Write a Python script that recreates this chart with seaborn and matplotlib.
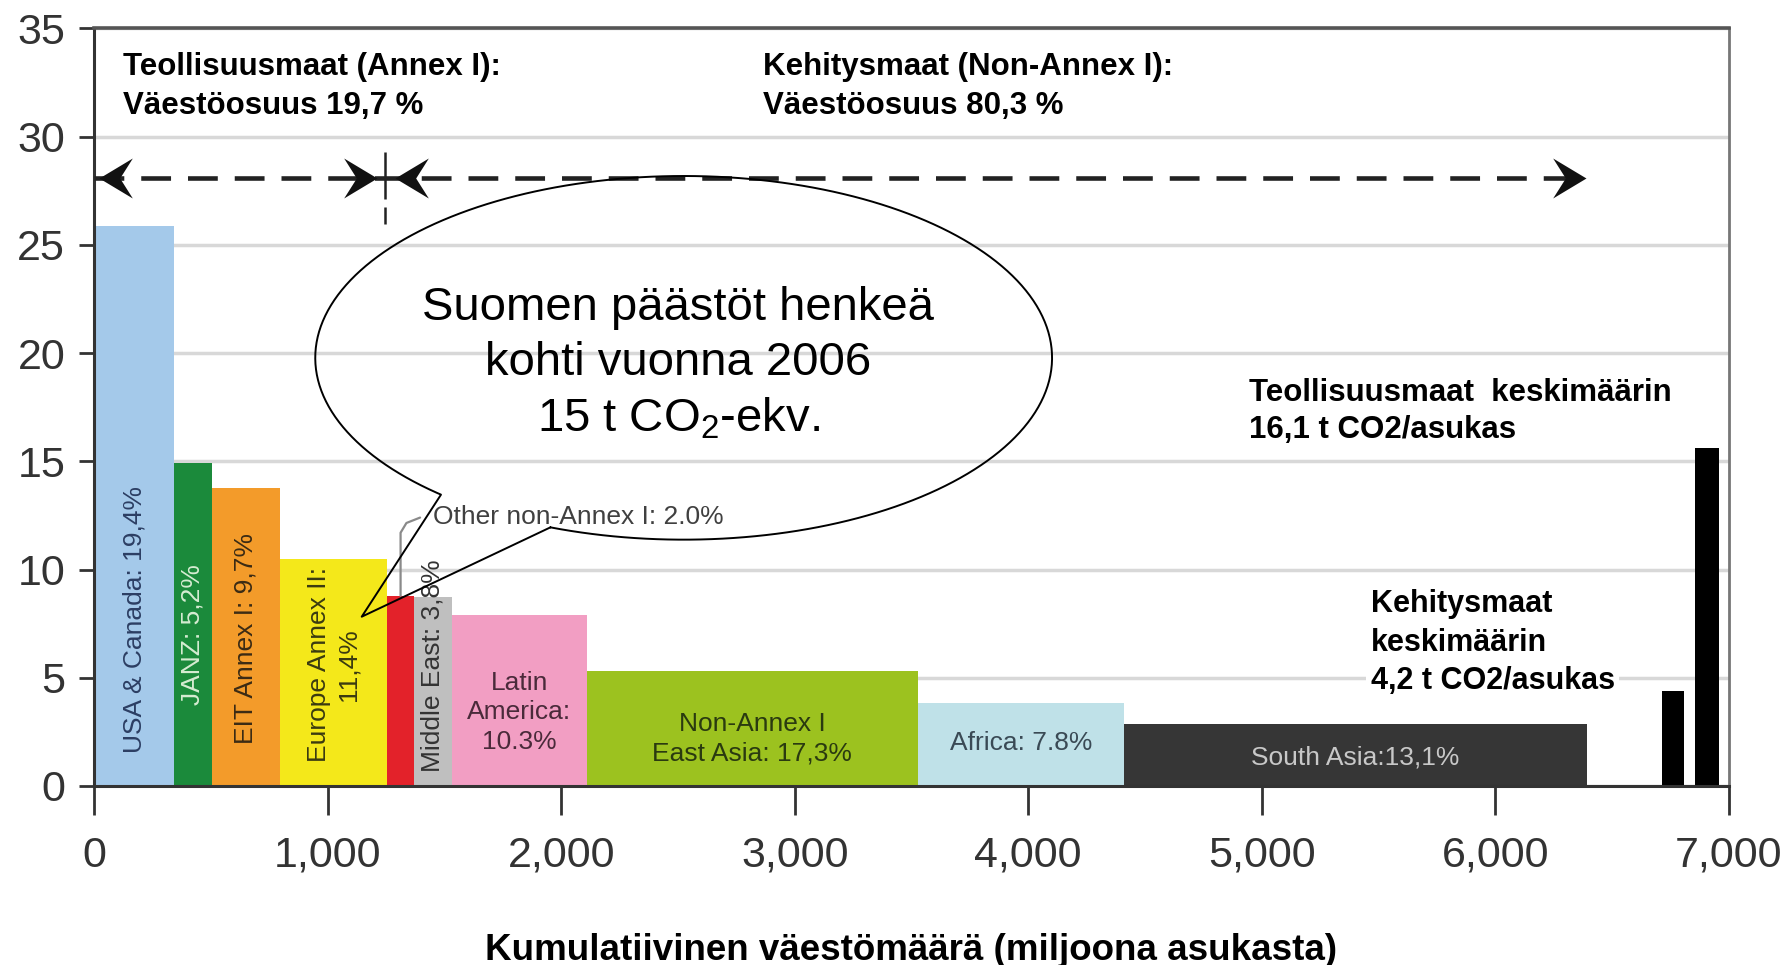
import numpy as np
import pandas as pd
import matplotlib
matplotlib.use("Agg")
import matplotlib.pyplot as plt
import seaborn as sns
from matplotlib.path import Path
from matplotlib import font_manager
from matplotlib.ticker import StrMethodFormatter

# --- data ------------------------------------------------------------------
regions = ["USA & Canada", "JANZ", "EIT Annex I", "Europe Annex II",
           "Other non-Annex I", "Middle East", "Latin America",
           "Non-Annex I East Asia", "Africa", "South Asia"]
population = [341, 162, 290, 462, 113, 163, 577, 1420, 882, 1983]   # milj.
per_capita = [25.85, 14.93, 13.75, 10.48, 8.78, 8.72, 7.9, 5.33, 3.83, 2.87]
bar_labels = ["USA & Canada: 19,4%", "JANZ: 5,2%", "EIT Annex I: 9,7%",
              "Europe Annex II:\n11,4%", "Other non-Annex I: 2.0%",
              "Middle East: 3,8%", "Latin\nAmerica:\n10.3%",
              "Non-Annex I\nEast Asia: 17,3%", "Africa: 7.8%",
              "South Asia:13,1%"]

avg_groups = ["Kehitysmaat", "Teollisuusmaat"]
avg_start = [6715, 6855]
avg_width = [95, 105]
avg_values = [4.4, 15.6]

x_ticks = [0, 1000, 2000, 3000, 4000, 5000, 6000, 7000]
y_ticks = [0, 5, 10, 15, 20, 25, 30, 35]

# --- styles ------------------------------------------------------------------
bar_colors = ["#a4c9ea", "#1b8a3b", "#f39b2a", "#f4e81a", "#e3222a",
              "#bfbfbf", "#f29ec3", "#9cc21f", "#bfe1e8", "#363636"]
label_colors = ["#2c3e63", "#d6ecd2", "#3b2b14", "#3a3a10", "#404040",
                "#333333", "#4a2a3a", "#2a3a10", "#3a4a55", "#c8c8c8"]
label_rot = [90, 90, 90, 90, 0, 90, 0, 0, 0, 0]
label_y = [7.7, 7.0, 6.8, 5.6, None, 5.55, 3.4, 2.2, 2.0, 1.3]

sns.set_theme(style="white")
plt.rcParams["font.family"] = ["Liberation Sans", "DejaVu Sans"]
plt.rcParams["mathtext.fontset"] = "custom"
plt.rcParams["mathtext.rm"] = "Liberation Sans"

names = {f.name for f in font_manager.fontManager.ttflist}
if "Liberation Sans Narrow" in names:
    bar_font, bar_size = ["Liberation Sans Narrow", "Liberation Sans"], 22.5
else:
    bar_font, bar_size = ["Liberation Sans", "DejaVu Sans"], 19

df = pd.DataFrame({"region": regions, "pop": population, "value": per_capita,
                   "label": bar_labels})
df["left"] = df["pop"].cumsum() - df["pop"]
df["mid"] = df["left"] + df["pop"] / 2

fig = plt.figure(figsize=(17.81, 9.65), dpi=100)
ax = fig.add_axes([0.053, 0.1855, 0.9176, 0.7851])

ax.bar(df["left"], df["value"], width=df["pop"], align="edge",
       color=bar_colors, linewidth=0, zorder=2)
ax.bar(avg_start, avg_values, width=avg_width, align="edge",
       color="black", linewidth=0, zorder=2)

ax.set_xlim(0, 7000)
ax.set_ylim(0, 35)
ax.set_xticks(x_ticks)
ax.set_yticks(y_ticks)
ax.xaxis.set_major_formatter(StrMethodFormatter("{x:,.0f}"))
ax.yaxis.grid(True, color="#d8d8d8", lw=2.5)
ax.set_axisbelow(True)

ax.tick_params(axis="x", direction="out", length=21, width=2, color="#333",
               labelsize=31, labelcolor="#333", pad=15, bottom=True)
ax.tick_params(axis="y", direction="out", length=11, width=2, color="#333",
               labelsize=31, labelcolor="#333", pad=10, left=True)
for side, c, w in [("left", "#333", 2.2), ("bottom", "#333", 2.2),
                   ("top", "#555", 2.6), ("right", "#777", 2.0)]:
    ax.spines[side].set_color(c)
    ax.spines[side].set_linewidth(w)
    ax.spines[side].set_visible(True)

ax.set_xlabel("Kumulatiivinen väestömäärä (miljoona asukasta)",
              fontsize=26.5, fontweight="bold", color="black", labelpad=41)

# labels inside bars
for i, row in df.iterrows():
    if label_y[i] is None:
        continue
    ax.text(row["mid"], label_y[i], row["label"], rotation=label_rot[i],
            ha="center", va="center", multialignment="center",
            fontsize=bar_size, family=bar_font, color=label_colors[i],
            linespacing=1.3, zorder=4)

# Other non-Annex I: label with bracket from the red bar
other = df.iloc[4]
ax.plot([other["mid"], other["mid"], other["mid"] + 25, 1395],
        [other["value"], 11.7, 12.15, 12.4], color="#8a8a8a", lw=1.6,
        zorder=3)
ax.text(1451, 12.44, other["label"], ha="left", va="center",
        fontsize=bar_size, family=bar_font, color=label_colors[4], zorder=4)

# dashed population-share arrows
arrow_y = 28.07
ax.plot([0, 6360], [arrow_y, arrow_y], color="#222", lw=3.3,
        ls=(0, (6.5, 3.7)), zorder=3)
head_r = Path([(0, 0), (-1, 0.6), (-0.62, 0), (-1, -0.6), (0, 0)],
              [Path.MOVETO, Path.LINETO, Path.LINETO, Path.LINETO,
               Path.CLOSEPOLY])
head_l = Path([(0, 0), (1, 0.6), (0.62, 0), (1, -0.6), (0, 0)],
              [Path.MOVETO, Path.LINETO, Path.LINETO, Path.LINETO,
               Path.CLOSEPOLY])
ax.plot([1211, 6388], [arrow_y, arrow_y], ls="none", marker=head_r, ms=48,
        mfc="#111", mew=0, zorder=4)
ax.plot([19, 1288], [arrow_y, arrow_y], ls="none", marker=head_l, ms=48,
        mfc="#111", mew=0, zorder=4)
ax.plot([1245, 1245], [29.3, 25.9], color="#222", lw=1.8,
        ls=(0, (18.8, 3.2, 6.8, 20)), zorder=4)

head_font = ["Liberation Sans", "DejaVu Sans"]
ax.text(122, 32.3, "Teollisuusmaat (Annex I):\nVäestöosuus 19,7 %",
        ha="left", va="center", fontsize=22.5, fontweight="bold",
        family=head_font, linespacing=1.38, color="black")
ax.text(2865, 32.3, "Kehitysmaat (Non-Annex I):\nVäestöosuus 80,3 %",
        ha="left", va="center", fontsize=22.5, fontweight="bold",
        family=head_font, linespacing=1.38, color="black")
ax.text(4946, 17.3, "Teollisuusmaat  keskimäärin\n16,1 t CO2/asukas",
        ha="left", va="center", fontsize=22.5, fontweight="bold",
        family=head_font, linespacing=1.3, color="black")
ax.text(5467, 6.62, "Kehitysmaat\nkeskimäärin\n4,2 t CO2/asukas",
        ha="left", va="center", fontsize=22, fontweight="bold",
        family=head_font, linespacing=1.36, color="black",
        bbox=dict(fc="white", ec="none", pad=3), zorder=3)

# speech bubble
cx, cy, a, b = 2524, 19.78, 1578, 8.4
t = np.radians(np.linspace(-111.2, 228.8, 400))
bx = cx + a * np.cos(t)
by = cy + b * np.sin(t)
tip = (1145, 7.82)
ax.plot(np.r_[bx, tip[0], bx[0]], np.r_[by, tip[1], by[0]],
        color="black", lw=1.4, zorder=5)
ax.text(2500, 19.5, "Suomen päästöt henkeä\nkohti vuonna 2006\n"
        r"15 t CO$_\mathrm{2}$-ekv.", ha="center", va="center",
        fontsize=34, family=head_font, color="black", linespacing=1.32,
        zorder=5)

fig.savefig("out.png", dpi=100)
